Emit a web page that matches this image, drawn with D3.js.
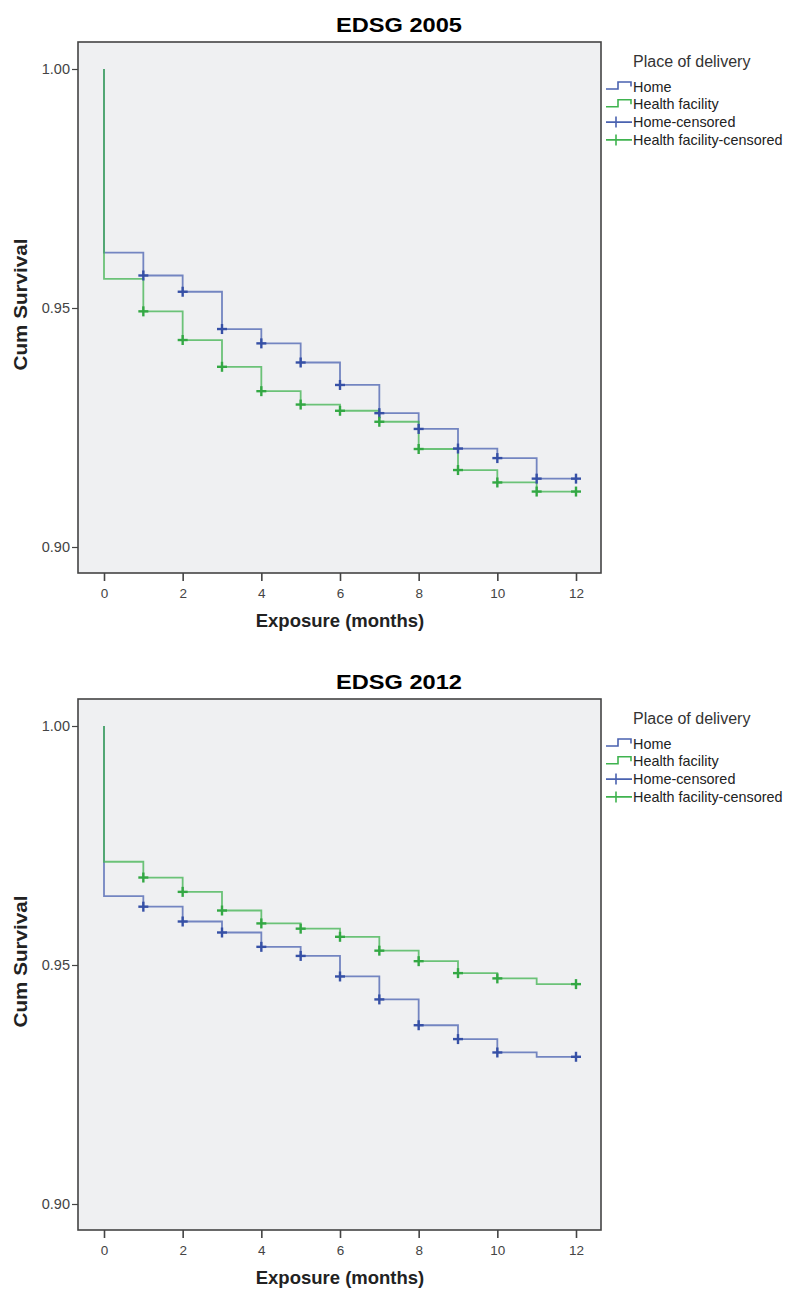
<!DOCTYPE html>
<html>
<head>
<meta charset="utf-8">
<script src="https://cdn.jsdelivr.net/npm/d3@7"></script>
<style>
  html, body { margin: 0; padding: 0; background: #ffffff; }
  svg { display: block; font-family: "Liberation Sans", Arial, sans-serif; }
</style>
</head>
<body>
<svg id="chart" width="787" height="1289"></svg>
<script>
// Kaplan–Meier survival by place of delivery (EDSG surveys)
const stepMonths = [0, 1, 2, 3, 4, 5, 6, 7, 8, 9, 10, 11];
const xTicks = [0, 2, 4, 6, 8, 10, 12];
const yTicks = [0.90, 0.95, 1.00];
const groups = ["Home", "Health facility"];
const legendLabels = ["Home", "Health facility", "Home-censored", "Health facility-censored"];

// survival level after the step at each month in stepMonths
const home2005 = [0.9616, 0.9568, 0.9534, 0.9456, 0.9426, 0.9386, 0.9339, 0.9280, 0.9247, 0.9206, 0.9186, 0.9143];
const facility2005 = [0.9561, 0.9493, 0.9433, 0.9377, 0.9326, 0.9298, 0.9285, 0.9262, 0.9205, 0.9161, 0.9135, 0.9116];
const censored2005 = [1, 2, 3, 4, 5, 6, 7, 8, 9, 10, 11, 12];

const home2012 = [0.9644, 0.9622, 0.9591, 0.9568, 0.9538, 0.9519, 0.9476, 0.9428, 0.9374, 0.9345, 0.9317, 0.9308];
const facility2012 = [0.9716, 0.9683, 0.9653, 0.9614, 0.9587, 0.9576, 0.9559, 0.9530, 0.9508, 0.9483, 0.9472, 0.9460];
const censored2012 = [1, 2, 3, 4, 5, 6, 7, 8, 9, 10, 12];

const lineColors = ["#4a62b0", "#3fb34f"];
const markColors = ["#3650a6", "#33a844"];

const svg = d3.select("#chart");

function panel(top, title, series, censored) {
  const frame = { left: 78, right: 601, top: top, bottom: top + 531 };
  const x = d3.scaleLinear().domain([0, 12]).range([104, 576]);
  const y = d3.scaleLinear().domain([0.90, 1.00]).range([top + 505, top + 27]);
  const g = svg.append("g");

  g.append("text")
    .attr("x", 399).attr("y", top - 10)
    .attr("text-anchor", "middle")
    .attr("font-size", 21).attr("font-weight", "bold").attr("fill", "#000")
    .attr("textLength", 126).attr("lengthAdjust", "spacingAndGlyphs")
    .text(title);

  g.append("rect")
    .attr("x", frame.left).attr("y", frame.top)
    .attr("width", frame.right - frame.left).attr("height", frame.bottom - frame.top)
    .attr("fill", "#eff0f2");

  // y axis
  const yAxis = g.append("g")
    .attr("transform", `translate(${frame.left},0)`)
    .call(d3.axisLeft(y).tickValues(yTicks).tickFormat(d3.format(".2f")).tickSize(6).tickPadding(2));
  yAxis.attr("font-size", 14.5).attr("font-family", "Liberation Sans, Arial, sans-serif");
  yAxis.select(".domain").remove();
  yAxis.selectAll("line").attr("stroke", "#444").attr("stroke-width", 1.2);
  yAxis.selectAll("text").attr("fill", "#444");

  // x axis
  const xAxis = g.append("g")
    .attr("transform", `translate(0,${frame.bottom})`)
    .call(d3.axisBottom(x).tickValues(xTicks).tickFormat(d3.format("d")).tickSize(8).tickPadding(7));
  xAxis.attr("font-size", 13.5).attr("font-family", "Liberation Sans, Arial, sans-serif");
  xAxis.select(".domain").remove();
  xAxis.selectAll("line").attr("stroke", "#444").attr("stroke-width", 1.6);
  xAxis.selectAll("text").attr("fill", "#444");

  g.append("rect")
    .attr("x", frame.left).attr("y", frame.top)
    .attr("width", frame.right - frame.left).attr("height", frame.bottom - frame.top)
    .attr("fill", "none").attr("stroke", "#444").attr("stroke-width", 1.6);

  g.append("text")
    .attr("x", 340).attr("y", frame.bottom + 54)
    .attr("text-anchor", "middle")
    .attr("font-size", 18.5).attr("font-weight", "bold").attr("fill", "#222")
    .text("Exposure (months)");

  g.append("text")
    .attr("transform", `translate(27,${(frame.top + frame.bottom) / 2 - 3}) rotate(-90)`)
    .attr("text-anchor", "middle")
    .attr("font-size", 19).attr("font-weight", "bold").attr("fill", "#222")
    .attr("textLength", 132).attr("lengthAdjust", "spacingAndGlyphs")
    .text("Cum Survival");

  const line = d3.line().x(d => x(d[0])).y(d => y(d[1])).curve(d3.curveStepAfter);

  series.forEach((s, i) => {
    const pts = [[0, 1.0]].concat(stepMonths.map((m, k) => [m, s[k]]), [[12, s[s.length - 1]]]);
    g.append("path")
      .attr("d", line(pts))
      .attr("fill", "none")
      .attr("stroke", lineColors[i])
      .attr("stroke-width", 1.8)
      .attr("stroke-opacity", 0.75);
  });

  series.forEach((s, i) => {
    const level = t => s[d3.bisectRight(stepMonths, t) - 1];
    const marks = g.append("g").attr("stroke", markColors[i]).attr("stroke-width", 2.4);
    censored.forEach(t => {
      const cx = x(t), cy = y(level(t));
      marks.append("line").attr("x1", cx - 5).attr("x2", cx + 5).attr("y1", cy).attr("y2", cy);
      marks.append("line").attr("x1", cx).attr("x2", cx).attr("y1", cy - 5).attr("y2", cy + 5);
    });
  });

  // legend
  const lg = g.append("g");
  lg.append("text")
    .attr("x", 633).attr("y", top + 25)
    .attr("font-size", 16).attr("fill", "#333")
    .text("Place of delivery");
  legendLabels.forEach((lab, i) => {
    const cy = top + 44.5 + i * 17.8;
    const c = lineColors[i % 2];
    if (i < 2) {
      lg.append("path")
        .attr("d", `M606,${cy + 2.5}H618V${cy - 4.5}H631V${cy}`)
        .attr("fill", "none").attr("stroke", c).attr("stroke-width", 1.6);
    } else {
      lg.append("path")
        .attr("d", `M606,${cy}H632M616,${cy - 5.5}V${cy + 5.5}`)
        .attr("fill", "none").attr("stroke", c).attr("stroke-width", 1.6);
    }
    lg.append("text")
      .attr("x", 633).attr("y", cy + 5)
      .attr("font-size", 14.4).attr("fill", "#222")
      .text(lab);
  });
}

panel(42, "EDSG 2005", [home2005, facility2005], censored2005);
panel(699, "EDSG 2012", [home2012, facility2012], censored2012);
</script>
</body>
</html>
